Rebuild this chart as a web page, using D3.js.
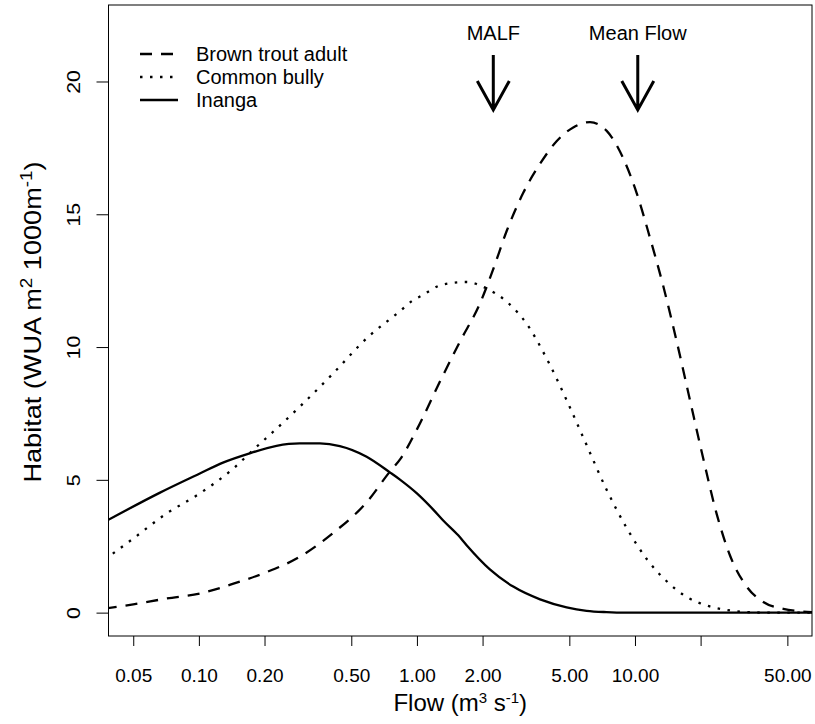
<!DOCTYPE html>
<html>
<head>
<meta charset="utf-8">
<script src="https://cdn.jsdelivr.net/npm/d3@7"></script>
<style>
    body { margin: 0; background: #fff; }
    svg { display: block; }
    text { font-family: "Liberation Sans", Arial, Helvetica, sans-serif; fill: #000; }
</style>
</head>
<body>
<div id="chart"><svg></svg></div>
<script>
// flow values (m3/s) and habitat (WUA)
var troutFlow = [0.037, 0.05, 0.071, 0.101, 0.144, 0.205, 0.29, 0.41, 0.59, 0.75, 0.84, 1.0, 1.275, 1.574, 1.945, 2.24, 2.58, 3.07, 3.67, 4.37, 5.21, 6.22, 7.42, 8.84, 10.18, 11.72, 13.49, 15.54, 17.88, 20.58, 23.71, 27.28, 32.54, 38.77, 47.9, 57.1, 66];
var troutWua = [0.15, 0.31, 0.53, 0.72, 1.09, 1.53, 2.1, 2.98, 4.17, 5.3, 5.79, 6.9, 8.7, 10.2, 11.64, 12.94, 14.37, 15.8, 16.9, 17.75, 18.27, 18.47, 18.14, 17.1, 15.8, 14.11, 12.29, 10.21, 8.0, 5.79, 3.71, 2.15, 0.98, 0.4, 0.14, 0.05, 0.02];

var bullyFlow = [0.037, 0.05, 0.071, 0.101, 0.144, 0.177, 0.219, 0.29, 0.413, 0.588, 0.836, 0.962, 1.032, 1.32, 1.69, 2.07, 2.58, 3.19, 3.94, 4.86, 6.0, 7.42, 9.16, 11.32, 13.98, 17.27, 21.33, 26.34, 32.54, 40, 66];
var bullyWua = [2.0, 2.79, 3.73, 4.49, 5.43, 6.12, 6.81, 7.75, 9.01, 10.33, 11.35, 11.77, 11.9, 12.36, 12.45, 12.22, 11.71, 10.87, 9.56, 8.0, 6.31, 4.62, 3.19, 2.02, 1.18, 0.59, 0.27, 0.1, 0.02, 0, 0];

var inangaFlow = [0.037, 0.066, 0.101, 0.129, 0.171, 0.227, 0.29, 0.359, 0.443, 0.588, 0.752, 0.836, 1.0, 1.188, 1.32, 1.547, 1.69, 2.16, 2.765, 3.67, 4.86, 6.0, 7.4, 9, 66];
var inangaWua = [3.42, 4.51, 5.24, 5.65, 6.0, 6.28, 6.37, 6.37, 6.27, 5.87, 5.28, 5.01, 4.49, 3.88, 3.47, 2.91, 2.54, 1.63, 0.98, 0.5, 0.2, 0.07, 0.02, 0, 0];

var xTicks = [0.05, 0.1, 0.2, 0.5, 1, 2, 5, 10, 20, 50];
var xTickLabels = ["0.05", "0.10", "0.20", "0.50", "1.00", "2.00", "5.00", "10.00", "", "50.00"];
var yTicks = [0, 5, 10, 15, 20];

var seriesNames = ["Brown trout adult", "Common bully", "Inanga"];
var markerNames = ["MALF", "Mean Flow"];
var markerFlows = [2.24, 10.3];

var svg_width = 815;
var svg_height = 724;
var box = { left: 108.5, right: 812, top: 5, bottom: 636 };
var stretch = 1.18;   // rotated labels in the original are drawn taller

var svg = d3.select("#chart").select("svg")
    .attr("width", svg_width)
    .attr("height", svg_height);

var x = d3.scaleLog().domain([0.0385, 64.85]).range([box.left, box.right]);
var y = d3.scaleLinear().domain([-0.88, 22.88]).range([box.bottom, box.top]);

var dashes = ["12,9", "2.5,7.5", null];

// clip curves to the plot region
svg.append("clipPath").attr("id", "plotclip")
    .append("rect")
    .attr("x", box.left).attr("y", box.top)
    .attr("width", box.right - box.left).attr("height", box.bottom - box.top);

var line = d3.line()
    .x(function(d) { return x(d[0]); })
    .y(function(d) { return y(d[1]); })
    .curve(d3.curveMonotoneX);

var series = [
    d3.zip(troutFlow, troutWua),
    d3.zip(bullyFlow, bullyWua),
    d3.zip(inangaFlow, inangaWua)
];

svg.append("g").attr("clip-path", "url(#plotclip)")
    .selectAll("path")
    .data(series)
    .enter().append("path")
    .attr("d", line)
    .attr("fill", "none")
    .attr("stroke", "#000")
    .attr("stroke-width", 2.3)
    .attr("stroke-dasharray", function(d, i) { return dashes[i]; });

// box
svg.append("rect")
    .attr("x", box.left).attr("y", box.top)
    .attr("width", box.right - box.left).attr("height", box.bottom - box.top)
    .attr("fill", "none").attr("stroke", "#000").attr("stroke-width", 1);

// x axis
var xAxis = d3.axisBottom(x)
    .tickValues(xTicks)
    .tickSize(10)
    .tickPadding(0)
    .tickFormat(function(d, i) { return xTickLabels[i]; });

var gx = svg.append("g")
    .attr("transform", "translate(0," + box.bottom + ")")
    .call(xAxis);
gx.select(".domain").remove();
gx.selectAll(".tick line").attr("stroke", "#000");
gx.selectAll(".tick text")
    .attr("y", 46)
    .attr("dy", null)
    .style("font-size", "19px")
    .style("font-family", "Liberation Sans, Arial, sans-serif");

// y axis
var yAxis = d3.axisLeft(y)
    .tickValues(yTicks)
    .tickSize(12)
    .tickFormat(d3.format("d"));

var gy = svg.append("g")
    .attr("transform", "translate(" + box.left + ",0)")
    .call(yAxis);
gy.select(".domain").remove();
gy.selectAll(".tick line").attr("stroke", "#000");
gy.selectAll(".tick text")
    .attr("x", null).attr("dy", null)
    .attr("transform", "translate(-28.5,0) scale(1," + stretch + ") rotate(-90)")
    .attr("text-anchor", "middle")
    .style("font-size", "18px")
    .style("font-family", "Liberation Sans, Arial, sans-serif");

// axis titles
var xt = svg.append("text")
    .attr("x", (box.left + box.right) / 2)
    .attr("y", 711)
    .attr("text-anchor", "middle")
    .style("font-size", "24px");
xt.append("tspan").text("Flow (m");
xt.append("tspan").attr("dy", -8).style("font-size", "15px").text("3");
xt.append("tspan").attr("dy", 8).text(" s");
xt.append("tspan").attr("dy", -8).style("font-size", "15px").text("-1");
xt.append("tspan").attr("dy", 8).text(")");

var yt = svg.append("text")
    .attr("transform", "translate(41,322) scale(1," + stretch + ") rotate(-90)")
    .attr("text-anchor", "middle")
    .style("font-size", "23px");
yt.append("tspan").text("Habitat (WUA m");
yt.append("tspan").attr("dy", -9).style("font-size", "16px").text("2");
yt.append("tspan").attr("dy", 9).text(" 1000m");
yt.append("tspan").attr("dy", -9).style("font-size", "16px").text("-1");
yt.append("tspan").attr("dy", 9).text(")");

// legend
var legend = svg.append("g").selectAll("g")
    .data(seriesNames)
    .enter().append("g")
    .attr("transform", function(d, i) { return "translate(140," + (54 + i * 23) + ")"; });

legend.append("line")
    .attr("x1", 0).attr("x2", 38)
    .attr("stroke", "#000")
    .attr("stroke-width", 2.3)
    .attr("stroke-dasharray", function(d, i) { return dashes[i]; });

legend.append("text")
    .attr("x", 56)
    .attr("y", 7)
    .style("font-size", "20px")
    .text(function(d) { return d; });

// MALF / mean flow arrows
var marks = svg.append("g").selectAll("g")
    .data(markerFlows)
    .enter().append("g")
    .attr("transform", function(d) { return "translate(" + x(d) + ",0)"; });

marks.append("text")
    .attr("y", 40)
    .attr("text-anchor", "middle")
    .style("font-size", "20px")
    .text(function(d, i) { return markerNames[i]; });

marks.append("path")
    .attr("d", "M0,55L0,110M-16,81L0,110L16,81")
    .attr("fill", "none")
    .attr("stroke", "#000")
    .attr("stroke-width", 3);
</script>
</body>
</html>
